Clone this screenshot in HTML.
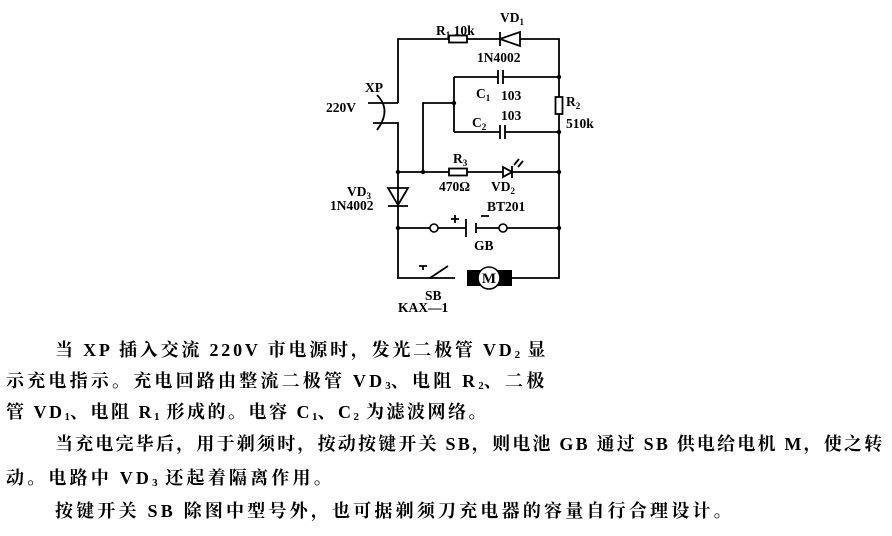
<!DOCTYPE html>
<html><head><meta charset="utf-8"><style>
body{margin:0;width:892px;height:536px;background:#fff;position:relative;overflow:hidden;font-family:"Liberation Serif","Noto Serif CJK SC",serif;color:#000}
.t{position:absolute;white-space:nowrap;font-size:18px;line-height:20px;font-weight:bold;letter-spacing:2.5px}
sub{font-size:11px;vertical-align:-2px;line-height:0;letter-spacing:0}
svg{position:absolute;left:0;top:0}
</style></head><body>
<svg width="892" height="320" viewBox="0 0 892 320" font-family="Liberation Serif, serif" font-weight="bold" font-size="13.5">
<g stroke="#000" stroke-width="1.8" fill="none">
<path d="M398 103 V39 H449 M467 39 H500 M520 39 H559 V97 M559 114 V278 H512"/>
<rect x="449" y="35.5" width="18" height="7"/>
<path d="M500 32 V46 M500 39 L520 32 V46 Z"/>
<path d="M368 103 H398 M373 123 H398 V278 H455"/>
<path d="M377 95 Q392 110 377 130"/>
<path d="M423 172 V103 H454 M454 77 V132 M454 77 H498 M503 77 H559 M454 132 H500 M505 132 H559"/>
<path d="M498 70 V84 M503 70 V84 M500 125 V139 M505 125 V139"/>
<rect x="555.5" y="97" width="7" height="17"/>
<path d="M398 172 H449 M467 172 H503 M512 172 H559"/>
<rect x="449" y="168.5" width="18" height="7"/>
<path d="M503 167 L512 172 L503 177 Z M512 166 V178"/>
<path d="M514 165 L519 159 M518 167 L523 161"/>
<path d="M388 188 H408 L398 205 Z M388 206 H408"/>
<path d="M398 228 H430 M438 228 H466 M476 228 H499 M507 228 H559"/>
<path d="M466 219 V237 M476 223 V233 M451 219 H459 M455 215 V223 M481 216 H489"/>
<path d="M423 266 V270 M419 266 H427 M430 278 L448 266"/>
</g>
<g fill="#000">
<circle cx="398" cy="172" r="2.2"/><circle cx="423" cy="172" r="2.2"/><circle cx="559" cy="172" r="2.2"/>
<circle cx="454" cy="103" r="2.2"/><circle cx="559" cy="77" r="2.2"/><circle cx="559" cy="132" r="2.2"/>
<circle cx="398" cy="228" r="2.2"/><circle cx="559" cy="228" r="2.2"/>
<rect x="467" y="270" width="45" height="16"/>
</g>
<circle cx="434" cy="228" r="4" fill="#fff" stroke="#000" stroke-width="1.6"/>
<circle cx="503" cy="228" r="4" fill="#fff" stroke="#000" stroke-width="1.6"/>
<circle cx="489" cy="278" r="11" fill="#fff" stroke="#000" stroke-width="1.6"/>
<text x="489" y="283" text-anchor="middle" font-size="15">M</text>
<text x="436" y="35">R<tspan font-size="9" dy="3">1</tspan><tspan dy="-3"> 10k</tspan></text>
<text x="500" y="22">VD<tspan font-size="9" dy="3">1</tspan></text>
<text x="477" y="62">1N4002</text>
<text x="365" y="92">XP</text>
<text x="326" y="112">220V</text>
<text x="476" y="98">C<tspan font-size="9" dy="3">1</tspan></text>
<text x="501" y="100">103</text>
<text x="472" y="127">C<tspan font-size="9" dy="3">2</tspan></text>
<text x="501" y="120">103</text>
<text x="566" y="106">R<tspan font-size="9" dy="3">2</tspan></text>
<text x="566" y="128">510k</text>
<text x="453" y="163">R<tspan font-size="9" dy="3">3</tspan></text>
<text x="439" y="191">470Ω</text>
<text x="491" y="191">VD<tspan font-size="9" dy="3">2</tspan></text>
<text x="487" y="211">BT201</text>
<text x="347" y="196">VD<tspan font-size="9" dy="3">3</tspan></text>
<text x="330" y="210">1N4002</text>
<text x="474" y="250">GB</text>
<text x="425" y="300">SB</text>
<text x="398" y="312">KAX—1</text>
</svg>
<div class="t" style="left:55px;top:340px;letter-spacing:2.8px">当 XP 插入交流 220V 市电源时，发光二极管 VD<sub>2</sub> 显</div>
<div class="t" style="left:6px;top:371px;letter-spacing:3.2px">示充电指示。充电回路由整流二极管 VD<sub>3</sub>、电阻 R<sub>2</sub>、二极</div>
<div class="t" style="left:6px;top:402px;letter-spacing:2.5px">管 VD<sub>1</sub>、电阻 R<sub>1</sub> 形成的。电容 C<sub>1</sub>、C<sub>2</sub> 为滤波网络。</div>
<div class="t" style="left:55px;top:434px;letter-spacing:2.2px">当充电完毕后，用于剃须时，按动按键开关 SB，则电池 GB 通过 SB 供电给电机 M，使之转</div>
<div class="t" style="left:6px;top:468px;letter-spacing:3.2px">动。电路中 VD<sub>3</sub> 还起着隔离作用。</div>
<div class="t" style="left:55px;top:501px;letter-spacing:3.2px">按键开关 SB 除图中型号外，也可据剃须刀充电器的容量自行合理设计。</div>
</body></html>
